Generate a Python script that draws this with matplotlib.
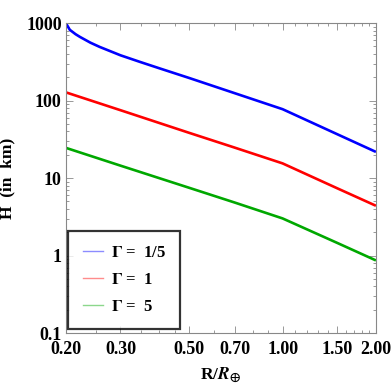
"""
Scale height H vs planet radius for three values of Gamma (log-log)
"""

import matplotlib.pyplot as plt
from matplotlib.ticker import FixedLocator, NullFormatter

# values
r_blue = [0.200, 0.206, 0.215, 0.222, 0.240, 0.257, 0.300, 0.347, 0.400, 0.500, 0.700, 1.000, 1.500, 2.000]
h_blue = [1000, 820, 720, 665, 560, 494, 385, 316, 262, 196, 125, 77.6, 36.9, 21.8]

r_red = [0.2, 0.3, 0.5, 0.7, 1.0, 1.5, 2.0]
h_red = [128, 75.3, 38.4, 24.8, 15.5, 7.4, 4.4]

r_green = [0.2, 0.3, 0.5, 0.7, 1.0, 1.5, 2.0]
h_green = [24.6, 14.5, 7.5, 4.85, 3.02, 1.46, 0.867]

labels = [r'$\Gamma$ =  1/5', r'$\Gamma$ =  1', r'$\Gamma$ =  5']
colors = ['#0000ff', '#ff0000', '#00a800']

xticks = [0.2, 0.3, 0.5, 0.7, 1.0, 1.5, 2.0]
xtick_labels = ['0.20', '0.30', '0.50', '0.70', '1.00', '1.50', '2.00']
xminor = [0.25, 0.35, 0.4, 0.45, 0.6, 0.8, 0.9, 1.1, 1.2, 1.3, 1.4, 1.6, 1.7, 1.8, 1.9]
yticks = [0.1, 1, 10, 100, 1000]
ytick_labels = ['0.1', '1', '10', '100', '1000']

plt.rcParams['font.family'] = 'Liberation Serif'
plt.rcParams['font.weight'] = 'bold'
plt.rcParams['mathtext.fontset'] = 'stix'

fig = plt.figure(figsize=(3.92, 3.86), dpi=100)
ax = fig.add_axes([0.168, 0.137, 0.791, 0.803])

for r, h, c in zip([r_blue, r_red, r_green], [h_blue, h_red, h_green], colors):
    ax.plot(r, h, color=c, lw=1.9, solid_capstyle='butt')

ax.set_xscale('log')
ax.set_yscale('log')
ax.set_xlim(0.2, 2.0)
ax.set_ylim(0.1, 1000)

ax.xaxis.set_major_locator(FixedLocator(xticks))
ax.set_xticklabels(xtick_labels)
ax.xaxis.set_minor_locator(FixedLocator(xminor))
ax.xaxis.set_minor_formatter(NullFormatter())
ax.yaxis.set_major_locator(FixedLocator(yticks))
ax.set_yticklabels(ytick_labels)

for s in ax.spines.values():
    s.set_color('#888888')
    s.set_linewidth(0.8)
ax.tick_params(which='both', direction='in', top=True, right=True, colors='#888888',
               labelcolor='black', labelsize=13, width=0.6)
ax.tick_params(which='major', length=5, pad=3)
ax.tick_params(axis='x', which='major', pad=6)
ax.tick_params(which='minor', length=2.5)

ax.set_ylabel('H  (in  km)', fontsize=12.5, fontweight='bold', labelpad=8)
ax.set_xlabel(r'R/$\mathbfit{R}_{\oplus}$', fontsize=12.5, fontweight='bold', labelpad=5)

handles = [plt.Line2D([], [], color=c, lw=1.0, alpha=0.45) for c in colors]
leg = ax.legend(handles, labels, loc='lower left', bbox_to_anchor=(0.0, 0.005),
                fontsize=12, frameon=True, fancybox=False, handlelength=1.2,
                handletextpad=0.5, labelspacing=0.65, borderpad=0.85, borderaxespad=0.15)
leg.get_frame().set_edgecolor('black')
leg.get_frame().set_linewidth(1.6)

fig.savefig('out.png', dpi=100)
